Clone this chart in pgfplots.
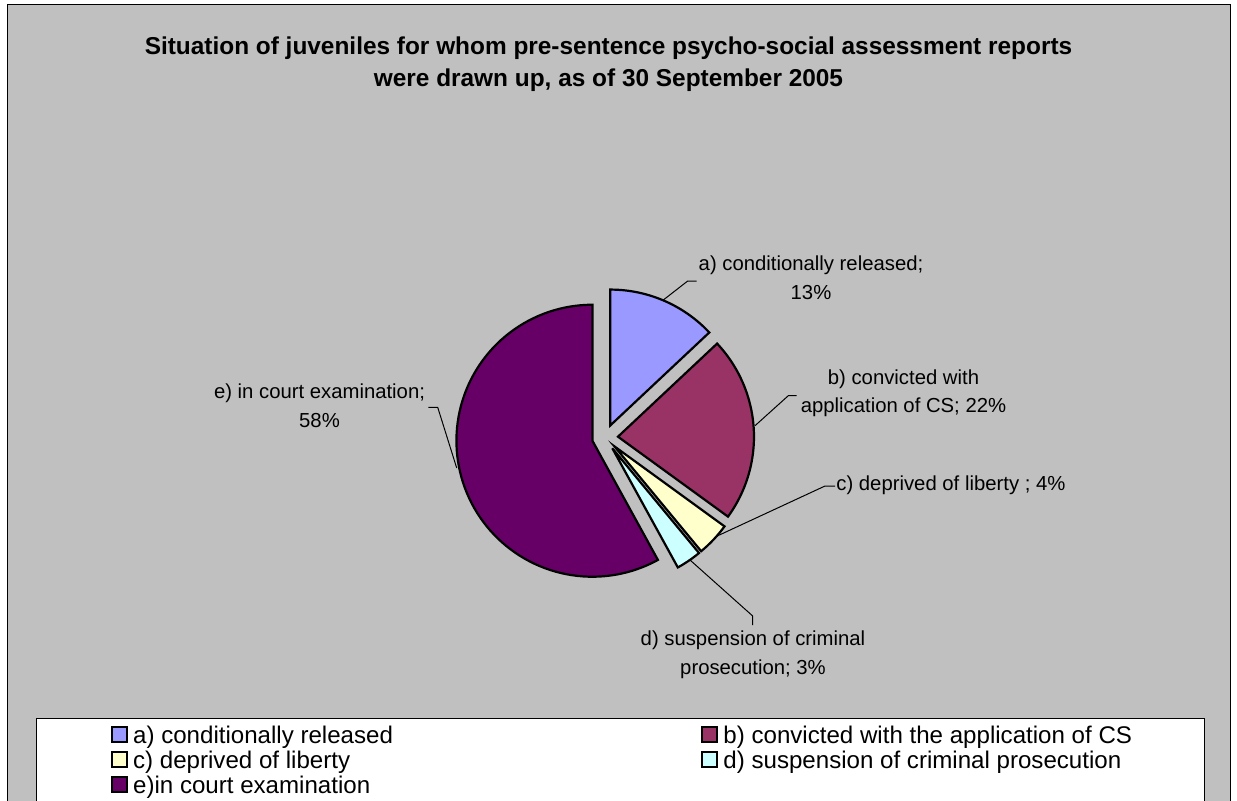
\documentclass[border=0pt]{standalone}
\usepackage{fontspec}
\setmainfont{Liberation Sans}
\usepackage{pgfplots}
\pgfplotsset{compat=1.18}
\definecolor{cgray}{HTML}{C0C0C0}
\definecolor{ca}{HTML}{9999FF}
\definecolor{cb}{HTML}{993366}
\definecolor{cc}{HTML}{FFFFCC}
\definecolor{cd}{HTML}{CCFFFF}
\definecolor{ce}{HTML}{660066}
% #1 cumulative share before the slice (%), #2 share (%), #3 colour, #4 legend text
\newcommand{\slice}[4]{%
  \pgfmathsetmacro{\am}{90-3.6*(#1+#2/2)}%
  \pgfmathsetmacro{\aa}{90-3.6*(#1+#2)}%
  \pgfmathsetmacro{\ab}{90-3.6*(#1)}%
  \pgfmathsetmacro{\vx}{605+13*cos(\am)}%
  \pgfmathsetmacro{\vy}{362.5+13*sin(\am)}%
  \edef\doslice{\noexpand\addplot[fill=#3, draw=black, line width=1.1pt, domain=\aa:\ab, samples=90]
     ({\vx+136*cos(x)},{\vy+136*sin(x)}) -- (axis cs:\vx,\vy) -- cycle;}%
  \doslice
  \addlegendentry{#4}%
}
\begin{document}
\begin{tikzpicture}
\useasboundingbox (0,0) rectangle (618.5pt,400pt);
\fill[white] (0,0) rectangle (618.5pt,400pt);
\begin{axis}[
  at={(0,0)}, anchor=south west,
  width=618.5pt, height=400pt, scale only axis,
  xmin=0, xmax=1237, ymin=0, ymax=800,
  hide axis, clip=false,
  legend columns=2, legend cell align=left,
  legend image code/.code={\draw[#1] (0pt,-1.725pt) rectangle (7.5pt,5.775pt);},
  legend style={at={(0.0897,0.09275)}, anchor=north west, draw=none, fill=none,
    inner sep=0pt, outer sep=0pt, row sep=0pt,
    font=\fontsize{12.05}{14}\selectfont,
    nodes={inner sep=0pt, text height=8.6pt, text depth=3.65pt},
    /tikz/every odd column/.append style={column sep=2.5pt},
    /tikz/every even column/.append style={column sep=154.1pt}},
]
\draw[fill=cgray, line width=0.5pt] (axis cs:7,795) rectangle (axis cs:1230,-20);
\draw[fill=white, line width=0.5pt] (axis cs:36,82) rectangle (axis cs:1204,-20);

\node[anchor=base, inner sep=0pt, font=\fontsize{12.2}{14}\selectfont\bfseries] at (axis cs:608.5,745)
  {Situation of juveniles for whom pre-sentence psycho-social assessment reports};
\node[anchor=base, inner sep=0pt, font=\fontsize{12.2}{14}\selectfont\bfseries] at (axis cs:608.5,713.3)
  {were drawn up, as of 30 September 2005};

\slice{0}{13}{ca}{a) conditionally released}
\slice{13}{22}{cb}{b) convicted with the application of CS}
\slice{35}{4}{cc}{c) deprived of liberty}
\slice{39}{3}{cd}{d) suspension of criminal prosecution}
\slice{42}{58}{ce}{e)in court examination}

\draw[line width=0.5pt] (axis cs:663.3,500) -- (axis cs:687.7,519) -- (axis cs:696.7,519);
\draw[line width=0.5pt] (axis cs:755,374.3) -- (axis cs:788.3,404.3) -- (axis cs:796.7,404.3);
\draw[line width=0.5pt] (axis cs:715.7,263.3) -- (axis cs:825,314) -- (axis cs:835,314);
\draw[line width=0.5pt] (axis cs:690,240) -- (axis cs:752.7,184) -- (axis cs:752.7,175);
\draw[line width=0.5pt] (axis cs:456.7,332) -- (axis cs:437.7,392.7) -- (axis cs:428.3,392.7);

\begin{scope}[every node/.style={inner sep=0pt, font=\fontsize{10.15}{12}\selectfont}]
\node[anchor=base] at (axis cs:811,529.3) {a) conditionally released;};
\node[anchor=base] at (axis cs:811,500.5) {13\%};
\node[anchor=base] at (axis cs:903.5,416) {b) convicted with};
\node[anchor=base] at (axis cs:903.5,387.6) {application of CS; 22\%};
\node[anchor=base west] at (axis cs:836,309.3) {c) deprived of liberty ; 4\%};
\node[anchor=base] at (axis cs:753,154.3) {d) suspension of criminal};
\node[anchor=base] at (axis cs:753,126) {prosecution; 3\%};
\node[anchor=base] at (axis cs:319.5,401.5) {e) in court examination;};
\node[anchor=base] at (axis cs:319.5,373) {58\%};
\end{scope}
\end{axis}
\end{tikzpicture}
\end{document}
